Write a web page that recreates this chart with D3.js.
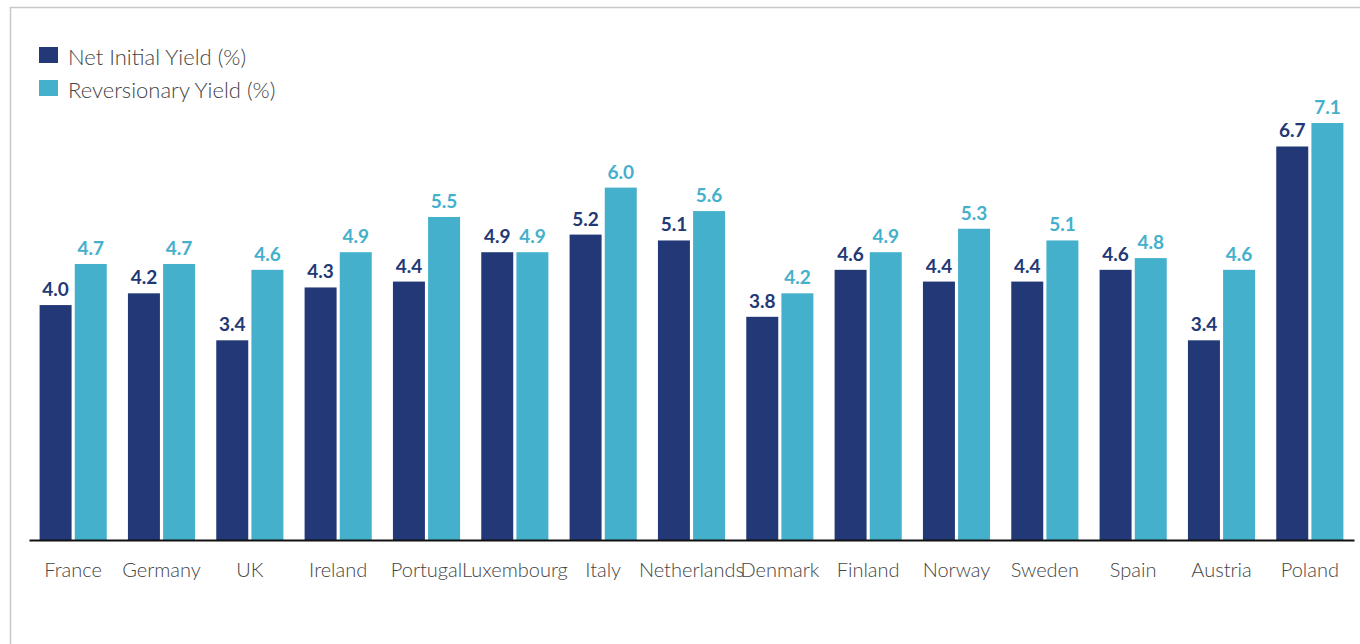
<!DOCTYPE html>
<html>
<head>
<meta charset="utf-8">
<script src="https://cdn.jsdelivr.net/npm/d3@7"></script>
<style>
  html, body { margin: 0; padding: 0; background: #fff; }
  svg { display: block; font-family: "Source Sans Pro", Lato, "Open Sans", sans-serif; }
</style>
</head>
<body>
<svg id="chart" width="1360" height="644"></svg>
<script>
// Prime office yields by market
const countries = ["France", "Germany", "UK", "Ireland", "Portugal", "Luxembourg", "Italy",
  "Netherlands", "Denmark", "Finland", "Norway", "Sweden", "Spain", "Austria", "Poland"];
const netInitialYield = [4.0, 4.2, 3.4, 4.3, 4.4, 4.9, 5.2, 5.1, 3.8, 4.6, 4.4, 4.4, 4.6, 3.4, 6.7];
const reversionaryYield = [4.7, 4.7, 4.6, 4.9, 5.5, 4.9, 6.0, 5.6, 4.2, 4.9, 5.3, 5.1, 4.8, 4.6, 7.1];
const seriesNames = ["Net Initial Yield (%)", "Reversionary Yield (%)"];
const seriesColors = ["#233876", "#44b0cc"];

const svg = d3.select("#chart");
const W = 1360, H = 644;

// frame lines (top and left)
svg.append("line").attr("x1", 10).attr("x2", W).attr("y1", 7.5).attr("y2", 7.5)
  .attr("stroke", "#c8c8c8").attr("stroke-width", 1.5);
svg.append("line").attr("x1", 10.5).attr("x2", 10.5).attr("y1", 7).attr("y2", H)
  .attr("stroke", "#c8c8c8").attr("stroke-width", 1.5);

const baseY = 540;
const x = d3.scaleBand().domain(countries).range([29, 1354]).paddingInner(0.24).paddingOuter(0.12);
const y = d3.scaleLinear().domain([0, 7.1]).range([baseY, 123]);
const sub = d3.scaleBand().domain([0, 1]).range([0, x.bandwidth()]).paddingInner(0.09);

const rows = countries.map((c, i) => ({ c, vals: [netInitialYield[i], reversionaryYield[i]] }));

const g = svg.append("g").selectAll("g").data(rows).join("g")
  .attr("transform", d => `translate(${x(d.c)},0)`);

g.selectAll("rect").data(d => d.vals).join("rect")
  .attr("x", (v, j) => sub(j))
  .attr("width", sub.bandwidth())
  .attr("y", v => y(v))
  .attr("height", v => baseY - y(v))
  .attr("fill", (v, j) => seriesColors[j]);

g.selectAll("text.val").data(d => d.vals).join("text")
  .attr("class", "val")
  .attr("x", (v, j) => sub(j) + sub.bandwidth() / 2)
  .attr("y", v => y(v) - 9)
  .attr("text-anchor", "middle")
  .attr("font-size", 19)
  .attr("font-weight", 700)
  .attr("fill", (v, j) => seriesColors[j])
  .text(v => v.toFixed(1));

// category axis
const axis = svg.append("g").attr("transform", `translate(0,${baseY})`)
  .call(d3.axisBottom(x).tickSize(0).tickPadding(23));
axis.select(".domain").attr("stroke", "#111").attr("stroke-width", 2.2);
axis.selectAll("text").attr("font-size", 20).attr("fill", "#444")
  .attr("font-family", "\"Source Sans Pro\", Lato, \"Open Sans\", sans-serif").attr("font-weight", 300);

// legend
const leg = svg.append("g").selectAll("g").data(seriesNames).join("g")
  .attr("transform", (d, i) => `translate(39,${47 + i * 33})`);
leg.append("rect").attr("width", 19).attr("height", 16).attr("fill", (d, i) => seriesColors[i]);
leg.append("text").attr("x", 29).attr("y", 18).attr("font-size", 22).attr("font-weight", 300)
  .attr("fill", "#444").text(d => d);
</script>
</body>
</html>
